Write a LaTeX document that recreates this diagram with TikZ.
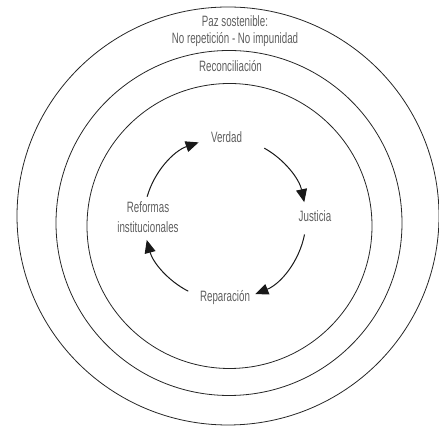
\documentclass[tikz,border=0pt]{standalone}
\usepackage{fontspec}
\newfontfamily\condfont[FakeStretch=0.65]{Liberation Sans}
\usetikzlibrary{arrows.meta}
\definecolor{textgray}{RGB}{95,95,95}
\begin{document}
\begin{tikzpicture}[x=1pt,y=1pt,
  ring/.style={draw=black!85,line width=0.8pt},
  lbl/.style={text=textgray,font=\condfont\fontsize{15}{17}\selectfont,align=center,inner sep=0pt},
  cyc/.style={draw=black!90,line width=1pt,-{Triangle[length=13pt,width=11pt]}}]
\useasboundingbox (0,0) rectangle (439,427);
\coordinate (oc) at (228,211);
\coordinate (mc) at (229,204);
\coordinate (ic) at (229.5,201);
\coordinate (ac) at (225,208);
\draw[ring] (oc) ellipse[x radius=211,y radius=209];
\draw[ring] (mc) ellipse[x radius=173,y radius=172.5];
\draw[ring] (ic) circle[radius=142.5];
\node[lbl] (paz) at (235,395.5) {Paz sostenible:\\No repetición - No impunidad};
\node[lbl] (rec) at (230.5,361) {Reconciliación};
\node[lbl] (ver) at (226.5,290) {Verdad};
\node[lbl] (jus) at (315,211) {Justicia};
\node[lbl,font=\condfont\fontsize{15}{20}\selectfont] (ref) at (148,210) {Reformas\\institucionales};
\node[lbl] (rep) at (225,129) {Reparación};
\draw[cyc] ([shift={(61:81)}]ac) arc[start angle=61,end angle=12,radius=81];
\draw[cyc] ([shift={(-11:81)}]ac) arc[start angle=-11,end angle=-68,radius=81];
\draw[cyc] ([shift={(-117:81)}]ac) arc[start angle=-117,end angle=-165,radius=81];
\draw[cyc] ([shift={(164:81)}]ac) arc[start angle=164,end angle=109,radius=81];
\end{tikzpicture}
\end{document}
